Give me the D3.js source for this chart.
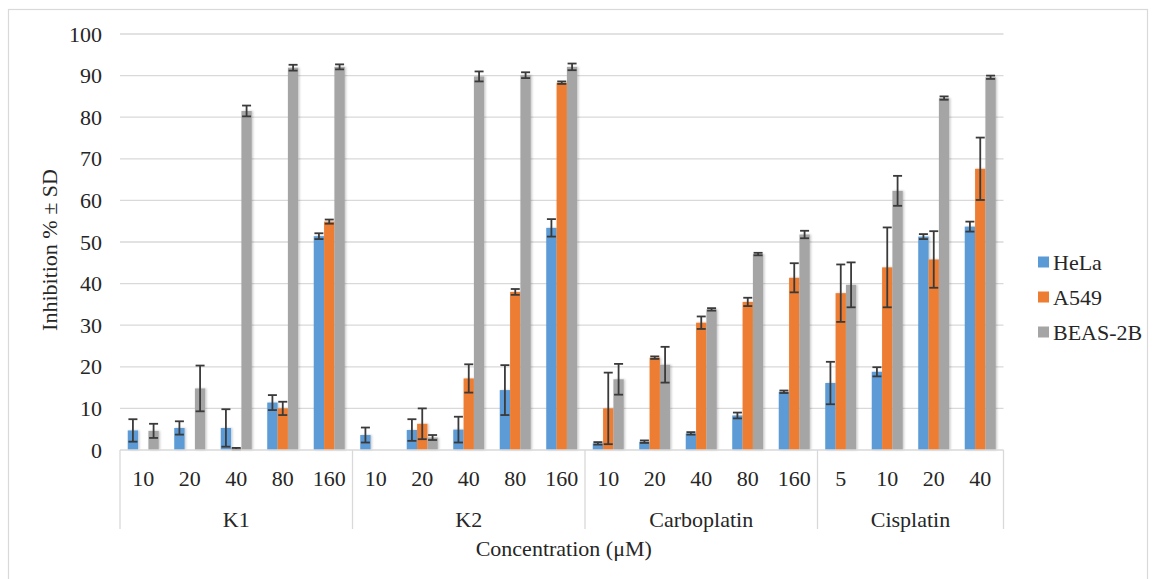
<!DOCTYPE html>
<html>
<head>
<meta charset="utf-8">
<script src="https://cdn.jsdelivr.net/npm/d3@7"></script>
<style>
  html, body { margin: 0; padding: 0; background: #ffffff; }
  svg { display: block; }
  svg text { font-family: "Liberation Serif", "DejaVu Serif", serif; }
</style>
</head>
<body>
<svg id="chart" width="1156" height="579"></svg>
<script>
// Compound groups and tested concentrations (µM)
const groups = ["K1", "K2", "Carboplatin", "Cisplatin"];
const concentrations = [
  ["10", "20", "40", "80", "160"],
  ["10", "20", "40", "80", "160"],
  ["10", "20", "40", "80", "160"],
  ["5", "10", "20", "40"]
];
const seriesNames = ["HeLa", "A549", "BEAS-2B"];
const seriesColors = ["#5b9bd5", "#ed7d31", "#a5a5a5"];

// Inhibition % (mean) and SD per cell line, in category order
const hela    = [4.7, 5.3, 5.3, 11.4, 51.4,  3.6, 4.8, 4.9, 14.4, 53.4,  1.6, 2.0, 4.0, 8.3, 14.0,  16.1, 18.8, 51.3, 53.7];
const helaSD  = [2.7, 1.6, 4.5, 1.8, 0.7,    1.8, 2.6, 3.1, 6.0, 2.1,    0.3, 0.3, 0.3, 0.7, 0.3,   5.1, 1.1, 0.6, 1.2];
const a549    = [0, 0, 0.3, 10.0, 54.9,      0, 6.3, 17.2, 38.0, 88.3,   10.0, 22.2, 30.6, 35.6, 41.4,  37.7, 43.9, 45.8, 67.6];
const a549SD  = [0, 0, 0.2, 1.6, 0.5,        0, 3.7, 3.4, 0.7, 0.3,      8.6, 0.3, 1.5, 1.0, 3.5,   6.9, 9.6, 6.8, 7.5];
const beas    = [4.6, 14.8, 81.5, 91.9, 92.1, 0, 3.0, 89.8, 90.1, 92.1,  17.0, 20.5, 33.8, 47.1, 51.8,  39.7, 62.3, 84.6, 89.6];
const beasSD  = [1.7, 5.5, 1.3, 0.7, 0.6,    0, 0.6, 1.2, 0.7, 0.8,      3.7, 4.3, 0.3, 0.3, 0.9,   5.4, 3.6, 0.4, 0.4];

const yTicks = [0, 10, 20, 30, 40, 50, 60, 70, 80, 90, 100];
const yTitle = "Inhibition % ± SD";
const xTitle = "Concentration (μM)";

const svg = d3.select("#chart");
const serif = "Liberation Serif, DejaVu Serif, serif";
const fontSize = 22;
const textColor = "#262626";
const gridColor = "#d9d9d9";

// Outer chart frame
svg.append("rect")
  .attr("x", 8.5).attr("y", 9.5)
  .attr("width", 1139).attr("height", 575)
  .attr("fill", "none").attr("stroke", gridColor).attr("stroke-width", 1.2);

const plot = { left: 120, right: 1003.5, top: 34, bottom: 450 };

// Flat list of categories with their group index
const cats = [];
concentrations.forEach((list, gi) => list.forEach(c => cats.push({ id: cats.length, group: gi, label: c })));

const x = d3.scaleBand().domain(cats.map(d => d.id)).range([plot.left, plot.right]).padding(0);
const xs = d3.scaleBand().domain(d3.range(3)).range([0, x.bandwidth()]).paddingInner(0).paddingOuter(0.75);
const y = d3.scaleLinear().domain([0, 100]).range([plot.bottom, plot.top]);

// Horizontal gridlines
svg.append("g").selectAll("line").data(yTicks.filter(t => t > 0)).join("line")
  .attr("x1", plot.left).attr("x2", plot.right)
  .attr("y1", d => y(d)).attr("y2", d => y(d))
  .attr("stroke", gridColor).attr("stroke-width", 1.3);

// Y axis labels
const yAxis = d3.axisLeft(y).tickValues(yTicks).tickSize(0).tickPadding(18);
const yg = svg.append("g").attr("transform", `translate(${plot.left},0)`).call(yAxis);
yg.attr("font-family", serif).attr("font-size", fontSize);
yg.select(".domain").remove();
yg.selectAll("text")
  .attr("font-family", serif)
  .attr("font-size", fontSize).attr("fill", textColor);

// Soft shadow for bars
const defs = svg.append("defs");
const f = defs.append("filter").attr("id", "soft").attr("x", "-30%").attr("y", "-5%").attr("width", "160%").attr("height", "110%");
f.append("feDropShadow").attr("dx", 1.2).attr("dy", 0).attr("stdDeviation", 1.2)
  .attr("flood-color", "#000").attr("flood-opacity", 0.22);

const values = [hela, a549, beas];
const sds = [helaSD, a549SD, beasSD];

const barData = [];
cats.forEach((c, i) => {
  for (let s = 0; s < 3; s++) {
    barData.push({ cat: c.id, s, v: values[s][i], sd: sds[s][i] });
  }
});

svg.append("g").attr("filter", "url(#soft)")
  .selectAll("rect").data(barData.filter(d => d.v > 0)).join("rect")
  .attr("x", d => x(d.cat) + xs(d.s))
  .attr("width", xs.bandwidth())
  .attr("y", d => y(d.v))
  .attr("height", d => y(0) - y(d.v))
  .attr("fill", d => seriesColors[d.s]);

// Error bars
const errColor = "#3a3a3a";
const capHalf = 4.5;
const eg = svg.append("g").attr("stroke", errColor).attr("stroke-width", 1.8).attr("fill", "none");
const errData = barData.filter(d => d.sd > 0);
const cx = d => x(d.cat) + xs(d.s) + xs.bandwidth() / 2;
eg.selectAll("line.v").data(errData).join("line").attr("class", "v")
  .attr("x1", cx).attr("x2", cx)
  .attr("y1", d => y(d.v + d.sd)).attr("y2", d => y(Math.max(0, d.v - d.sd)));
eg.selectAll("line.t").data(errData).join("line").attr("class", "t")
  .attr("x1", d => cx(d) - capHalf).attr("x2", d => cx(d) + capHalf)
  .attr("y1", d => y(d.v + d.sd)).attr("y2", d => y(d.v + d.sd));
eg.selectAll("line.b").data(errData).join("line").attr("class", "b")
  .attr("x1", d => cx(d) - capHalf).attr("x2", d => cx(d) + capHalf)
  .attr("y1", d => y(Math.max(0, d.v - d.sd))).attr("y2", d => y(Math.max(0, d.v - d.sd)));

// Category axis: baseline, group separators, labels
svg.append("line")
  .attr("x1", plot.left).attr("x2", plot.right)
  .attr("y1", plot.bottom).attr("y2", plot.bottom)
  .attr("stroke", gridColor).attr("stroke-width", 1.3);

const groupBounds = groups.map((g, gi) => {
  const ids = cats.filter(c => c.group === gi).map(c => c.id);
  return { name: g, x0: x(ids[0]), x1: x(ids[ids.length - 1]) + x.bandwidth() };
});
const sepX = [groupBounds[0].x0].concat(groupBounds.map(b => b.x1));
svg.append("g").selectAll("line").data(sepX).join("line")
  .attr("x1", d => d).attr("x2", d => d)
  .attr("y1", plot.bottom).attr("y2", 529)
  .attr("stroke", gridColor).attr("stroke-width", 1.3);

svg.append("g").selectAll("text").data(cats).join("text")
  .attr("x", d => x(d.id) + x.bandwidth() / 2)
  .attr("y", 478)
  .attr("text-anchor", "middle").attr("dominant-baseline", "central")
  .attr("font-family", serif).attr("font-size", fontSize).attr("fill", textColor)
  .text(d => d.label);

svg.append("g").selectAll("text").data(groupBounds).join("text")
  .attr("x", d => (d.x0 + d.x1) / 2)
  .attr("y", 519)
  .attr("text-anchor", "middle").attr("dominant-baseline", "central")
  .attr("font-family", serif).attr("font-size", fontSize).attr("fill", textColor)
  .text(d => d.name);

// Axis titles
svg.append("text")
  .attr("x", (plot.left + plot.right) / 2 + 2)
  .attr("y", 548)
  .attr("text-anchor", "middle").attr("dominant-baseline", "central")
  .attr("font-family", serif).attr("font-size", fontSize).attr("fill", textColor)
  .text(xTitle);

svg.append("text")
  .attr("transform", `translate(49,${(plot.top + plot.bottom) / 2 + 8}) rotate(-90)`)
  .attr("text-anchor", "middle").attr("dominant-baseline", "central")
  .attr("font-family", serif).attr("font-size", fontSize).attr("fill", textColor)
  .text(yTitle);

// Legend
const lg = svg.append("g").selectAll("g").data(seriesNames).join("g")
  .attr("transform", (d, i) => `translate(1038,${262 + i * 35})`);
lg.append("rect").attr("x", 0).attr("y", -5.5).attr("width", 11).attr("height", 11)
  .attr("fill", (d, i) => seriesColors[i]);
lg.append("text").attr("x", 15).attr("y", 0)
  .attr("dominant-baseline", "central")
  .attr("font-family", serif).attr("font-size", fontSize).attr("fill", textColor)
  .text(d => d);
</script>
</body>
</html>
